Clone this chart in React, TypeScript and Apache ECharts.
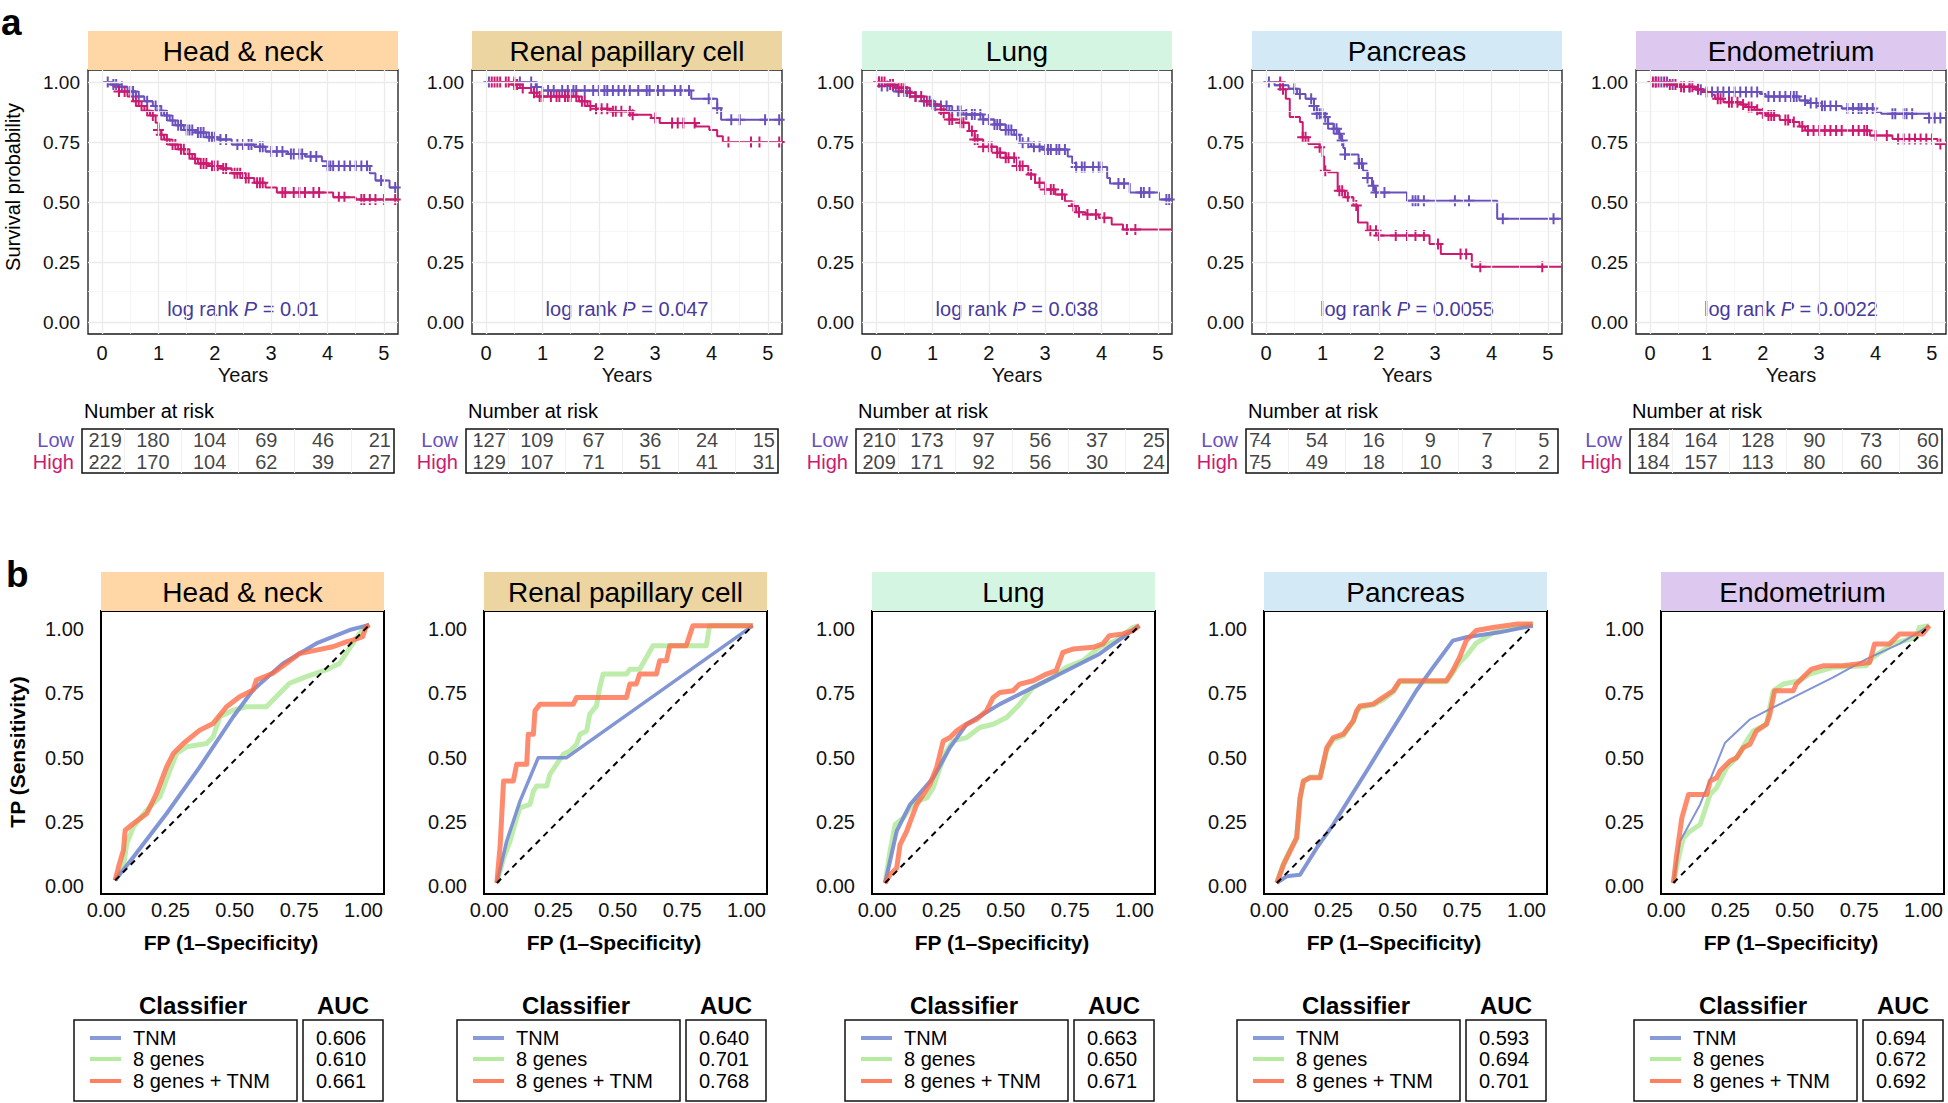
import React, { useEffect, useRef } from "react";
import * as echarts from "echarts";

const FONT = '"Liberation Sans", Arial, Helvetica, sans-serif';
const LOW_COLOR = "#6A50BC";
const HIGH_COLOR = "#CC1A70";
const P_COLOR = "#473A9C";
const TNM_COLOR = "#7489D0";
const GENES_COLOR = "#A8E68F";
const BOTH_COLOR = "#FF6A45";

// ---------- categories / labels ----------
const cancers = ["Head & neck", "Renal papillary cell", "Lung", "Pancreas", "Endometrium"];
const stripColors = ["#FFD6A5", "#ECD5A0", "#D5F5E3", "#D3E9F5", "#DDC9F0"];
const logRankP = ["0.01", "0.047", "0.038", "0.0055", "0.0022"];
const classifiers = ["TNM", "8 genes", "8 genes + TNM"];
const yearTicks = [0, 1, 2, 3, 4, 5];
const halfYears = [0.5, 1.5, 2.5, 3.5, 4.5];
const survTicks = [0, 0.25, 0.5, 0.75, 1];
const survMinor = [0.125, 0.375, 0.625, 0.875];
const rocTicks = [0, 0.25, 0.5, 0.75, 1];
const riskRows = ["High", "Low"];

// ---------- Kaplan-Meier step points [years, survival] and censor times ----------
const hnLowSteps = [[0,1],[0.15,0.99],[0.3,0.98],[0.45,0.96],[0.6,0.94],[0.75,0.92],[0.9,0.9],[1.0,0.88],[1.1,0.86],[1.2,0.84],[1.3,0.82],[1.45,0.8],[1.65,0.79],[1.85,0.77],[2.05,0.76],[2.3,0.74],[2.7,0.73],[2.9,0.71],[3.3,0.7],[3.6,0.69],[3.9,0.67],[4.0,0.65],[4.75,0.62],[4.85,0.59],[5.1,0.56]];
const hnLowCens = [0.1,0.2,0.25,0.35,0.5,0.55,0.65,0.8,0.95,1.05,1.15,1.25,1.35,1.4,1.5,1.55,1.6,1.7,1.75,1.8,1.9,1.95,2.0,2.1,2.2,2.4,2.5,2.6,2.65,2.8,2.85,3.0,3.1,3.2,3.35,3.4,3.5,3.55,3.7,3.8,4.0,4.05,4.1,4.2,4.3,4.4,4.5,4.6,4.7,4.95,5.2];
const hnHighSteps = [[0,1],[0.2,0.98],[0.3,0.96],[0.45,0.94],[0.55,0.92],[0.65,0.9],[0.75,0.88],[0.85,0.86],[0.95,0.83],[1.0,0.8],[1.05,0.78],[1.1,0.76],[1.2,0.74],[1.35,0.72],[1.5,0.7],[1.6,0.68],[1.7,0.66],[1.9,0.65],[2.1,0.64],[2.3,0.62],[2.5,0.6],[2.7,0.58],[2.9,0.56],[3.1,0.54],[4.1,0.52],[4.5,0.51]];
const hnHighCens = [0.3,0.4,0.6,0.7,0.8,0.9,1.0,1.05,1.15,1.25,1.3,1.4,1.45,1.55,1.65,1.75,1.8,1.85,1.95,2.0,2.05,2.15,2.2,2.35,2.4,2.45,2.55,2.6,2.75,2.8,2.85,3.2,3.25,3.4,3.5,3.6,3.75,3.85,4.2,4.3,4.6,4.65,4.75,4.85,5.0,5.2];

const rpLowSteps = [[0,1],[0.88,0.979],[1.0,0.965],[3.64,0.93],[4.1,0.891],[4.17,0.843]];
const rpLowCens = [0.05,0.5,0.6,0.8,0.9,1.1,1.2,1.35,1.45,1.55,1.6,1.75,1.9,2.0,2.1,2.15,2.25,2.35,2.45,2.55,2.7,2.85,2.9,3.05,3.15,3.35,3.45,3.6,3.95,4.1,4.35,4.5,4.95,5.2];
const rpHighSteps = [[0,1],[0.45,0.99],[0.65,0.975],[0.8,0.955],[0.9,0.94],[1.65,0.92],[1.8,0.9],[1.95,0.889],[2.2,0.878],[2.6,0.864],[2.93,0.85],[3.08,0.829],[3.72,0.815],[3.96,0.8],[4.1,0.774],[4.2,0.75]];
const rpHighCens = [0.1,0.15,0.2,0.25,0.35,0.4,0.5,0.55,0.65,0.85,0.95,1.0,1.15,1.25,1.3,1.4,1.45,1.5,1.6,1.7,1.75,1.85,1.95,2.05,2.15,2.25,2.3,2.4,2.55,2.6,3.0,3.3,3.4,3.5,3.7,4.3,4.7,4.85,5.2];

const luLowSteps = [[0,1],[0.1,0.983],[0.35,0.96],[0.6,0.94],[0.85,0.92],[1.0,0.9],[1.3,0.879],[1.55,0.865],[1.9,0.844],[2.1,0.823],[2.3,0.8],[2.45,0.78],[2.55,0.747],[2.75,0.73],[2.95,0.719],[3.4,0.69],[3.48,0.663],[3.55,0.646],[4.1,0.6],[4.15,0.577],[4.5,0.54],[5.02,0.51]];
const luLowCens = [0.05,0.1,0.2,0.3,0.4,0.5,0.55,0.7,0.85,0.95,1.05,1.15,1.25,1.35,1.45,1.5,1.6,1.7,1.75,1.85,1.9,2.0,2.1,2.15,2.2,2.3,2.35,2.4,2.5,2.6,2.7,2.8,2.9,3.0,3.05,3.1,3.2,3.25,3.35,3.55,3.65,3.7,3.85,3.95,4.0,4.3,4.4,4.7,4.75,4.85,5.15,5.2];
const luHighSteps = [[0,1],[0.25,0.99],[0.35,0.976],[0.55,0.955],[0.7,0.94],[0.85,0.92],[1.0,0.907],[1.15,0.885],[1.2,0.872],[1.3,0.844],[1.5,0.83],[1.65,0.796],[1.75,0.76],[1.9,0.73],[2.15,0.705],[2.3,0.684],[2.5,0.65],[2.7,0.615],[2.82,0.58],[3.0,0.552],[3.18,0.531],[3.35,0.503],[3.47,0.483],[3.55,0.457],[3.72,0.448],[3.95,0.434],[4.18,0.406],[4.38,0.385]];
const luHighCens = [0.05,0.1,0.15,0.25,0.3,0.4,0.45,0.5,0.6,0.7,0.8,0.9,1.0,1.15,1.2,1.3,1.35,1.5,1.55,1.7,1.75,1.8,1.9,2.0,2.05,2.15,2.2,2.3,2.35,2.45,2.5,2.55,2.6,2.75,2.9,3.0,3.1,3.15,3.3,3.5,3.6,3.75,3.9,4.05,4.45,4.6];

const paLowSteps = [[0,1],[0.15,0.986],[0.4,0.972],[0.55,0.95],[0.7,0.93],[0.85,0.9],[0.9,0.868],[1.05,0.854],[1.1,0.826],[1.2,0.805],[1.28,0.784],[1.33,0.756],[1.37,0.725],[1.4,0.698],[1.64,0.66],[1.72,0.63],[1.8,0.6],[1.88,0.568],[1.93,0.54],[2.5,0.505],[4.1,0.43]];
const paLowCens = [0.05,0.25,0.5,0.6,0.8,0.85,0.9,0.95,1.0,1.05,1.1,1.2,1.25,1.3,1.35,1.4,1.65,1.7,1.8,1.9,1.95,2.1,2.6,2.65,2.7,2.8,3.35,3.6,4.2,5.1];
const paHighSteps = [[0,1],[0.3,0.97],[0.35,0.93],[0.42,0.854],[0.6,0.833],[0.65,0.77],[0.75,0.742],[0.95,0.728],[1.0,0.69],[1.03,0.63],[1.1,0.624],[1.27,0.547],[1.4,0.52],[1.55,0.485],[1.63,0.415],[1.8,0.38],[2.0,0.36],[2.9,0.325],[3.1,0.283],[3.65,0.23]];
const paHighCens = [0.25,0.3,0.65,0.7,0.95,1.05,1.3,1.35,1.45,1.6,1.85,1.95,2.0,2.3,2.5,2.65,2.8,3.05,3.45,3.55,3.8,4.9];

const enLowSteps = [[0,1],[0.35,0.99],[0.55,0.979],[0.85,0.968],[1.0,0.958],[1.95,0.95],[2.05,0.94],[2.65,0.923],[2.8,0.912],[3.0,0.9],[3.4,0.89],[4.0,0.875],[4.1,0.868],[4.95,0.85]];
const enLowCens = [0.1,0.2,0.3,0.4,0.6,0.7,0.9,1.1,1.2,1.3,1.4,1.5,1.6,1.7,1.8,1.9,2.1,2.2,2.3,2.4,2.5,2.55,2.6,2.75,2.85,2.95,3.05,3.1,3.2,3.3,3.5,3.6,3.7,3.75,3.85,3.95,4.3,4.35,4.5,4.55,4.65,4.95,5.05,5.15];
const enHighSteps = [[0,1],[0.3,0.99],[0.5,0.98],[0.8,0.97],[0.95,0.958],[1.1,0.947],[1.15,0.93],[1.3,0.916],[1.6,0.906],[1.7,0.896],[1.85,0.884],[1.95,0.87],[2.05,0.86],[2.3,0.842],[2.5,0.833],[2.65,0.815],[2.75,0.798],[3.9,0.777],[4.3,0.763],[5.1,0.742]];
const enHighCens = [0.05,0.1,0.15,0.25,0.35,0.45,0.55,0.6,0.7,0.75,0.85,1.0,1.2,1.25,1.4,1.45,1.55,1.65,1.75,1.8,1.9,2.0,2.1,2.15,2.2,2.4,2.45,2.55,2.7,2.8,2.9,3.0,3.1,3.2,3.3,3.4,3.6,3.7,3.8,3.85,4.0,4.2,4.4,4.5,4.6,4.7,4.8,4.9,5.0,5.15];

// ---------- Number at risk (years 0..5) ----------
const hnRiskLow = [219, 180, 104, 69, 46, 21];
const hnRiskHigh = [222, 170, 104, 62, 39, 27];
const rpRiskLow = [127, 109, 67, 36, 24, 15];
const rpRiskHigh = [129, 107, 71, 51, 41, 31];
const luRiskLow = [210, 173, 97, 56, 37, 25];
const luRiskHigh = [209, 171, 92, 56, 30, 24];
const paRiskLow = [74, 54, 16, 9, 7, 5];
const paRiskHigh = [75, 49, 18, 10, 3, 2];
const enRiskLow = [184, 164, 128, 90, 73, 60];
const enRiskHigh = [184, 157, 113, 80, 60, 36];

// ---------- ROC curves [FP, TP] ----------
const hnTNM = [[0.035,0.023],[0.106,0.114],[0.235,0.283],[0.364,0.464],[0.494,0.659],[0.571,0.763],[0.687,0.866],[0.817,0.944],[0.946,0.996],[1.023,1.016]];
const hnGenes = [[0.035,0.023],[0.067,0.075],[0.08,0.166],[0.106,0.231],[0.158,0.296],[0.209,0.348],[0.248,0.451],[0.274,0.516],[0.313,0.542],[0.39,0.555],[0.416,0.581],[0.442,0.659],[0.494,0.685],[0.545,0.698],[0.623,0.698],[0.661,0.737],[0.713,0.789],[0.778,0.815],[0.855,0.841],[0.907,0.866],[0.933,0.905],[0.959,0.944],[0.985,0.983],[1.023,1.016]];
const hnBoth = [[0.035,0.023],[0.048,0.075],[0.067,0.14],[0.074,0.218],[0.106,0.244],[0.158,0.283],[0.196,0.361],[0.235,0.464],[0.261,0.516],[0.3,0.555],[0.364,0.607],[0.416,0.633],[0.468,0.698],[0.519,0.737],[0.571,0.763],[0.584,0.802],[0.648,0.828],[0.7,0.866],[0.752,0.905],[0.817,0.918],[0.881,0.931],[0.933,0.95],[0.959,0.957],[0.997,0.97],[1.01,1.009],[1.023,1.016]];

const rpTNM = [[0.03,0.013],[0.068,0.175],[0.12,0.331],[0.191,0.5],[0.301,0.5],[1.025,1.013]];
const rpGenes = [[0.03,0.013],[0.056,0.11],[0.081,0.175],[0.107,0.266],[0.12,0.305],[0.159,0.318],[0.172,0.37],[0.185,0.39],[0.224,0.39],[0.236,0.435],[0.262,0.474],[0.288,0.513],[0.314,0.526],[0.34,0.552],[0.353,0.591],[0.379,0.604],[0.391,0.669],[0.417,0.701],[0.43,0.773],[0.443,0.825],[0.534,0.825],[0.547,0.844],[0.585,0.844],[0.637,0.935],[0.844,0.935],[0.857,1.013],[1.025,1.013]];
const rpBoth = [[0.03,0.013],[0.043,0.162],[0.056,0.409],[0.094,0.409],[0.107,0.474],[0.146,0.474],[0.152,0.591],[0.172,0.591],[0.178,0.682],[0.198,0.708],[0.327,0.708],[0.34,0.734],[0.534,0.734],[0.547,0.786],[0.572,0.786],[0.585,0.825],[0.65,0.825],[0.663,0.877],[0.689,0.877],[0.702,0.935],[0.766,0.935],[0.792,1.013],[1.025,1.013]];

const luTNM = [[0.031,0.013],[0.076,0.214],[0.128,0.318],[0.218,0.422],[0.283,0.539],[0.348,0.63],[0.477,0.708],[0.606,0.773],[0.735,0.838],[0.864,0.903],[1.019,1.013]];
const luGenes = [[0.031,0.013],[0.05,0.136],[0.07,0.24],[0.102,0.266],[0.128,0.305],[0.154,0.331],[0.193,0.344],[0.218,0.383],[0.244,0.461],[0.27,0.526],[0.296,0.565],[0.348,0.578],[0.399,0.617],[0.451,0.63],[0.503,0.656],[0.554,0.708],[0.606,0.773],[0.683,0.812],[0.735,0.851],[0.8,0.877],[0.864,0.929],[0.929,0.955],[0.994,1.006],[1.019,1.013]];
const luBoth = [[0.031,0.013],[0.05,0.045],[0.076,0.071],[0.089,0.162],[0.115,0.214],[0.134,0.266],[0.154,0.318],[0.18,0.357],[0.205,0.396],[0.231,0.461],[0.257,0.565],[0.283,0.578],[0.309,0.604],[0.348,0.63],[0.386,0.649],[0.425,0.682],[0.451,0.734],[0.477,0.753],[0.528,0.76],[0.554,0.786],[0.606,0.799],[0.658,0.825],[0.696,0.838],[0.722,0.909],[0.761,0.922],[0.839,0.929],[0.877,0.942],[0.903,0.974],[0.955,0.981],[0.994,0.994],[1.019,1.013]];

const paTNM = [[0.03,0.013],[0.068,0.039],[0.12,0.045],[0.185,0.149],[0.249,0.24],[0.314,0.344],[0.379,0.448],[0.443,0.552],[0.508,0.656],[0.572,0.76],[0.637,0.851],[0.714,0.955],[0.766,0.968],[0.895,0.987],[1.025,1.013]];
const paGenes = [[0.03,0.013],[0.056,0.09],[0.081,0.14],[0.107,0.19],[0.12,0.34],[0.133,0.405],[0.159,0.425],[0.198,0.425],[0.224,0.53],[0.249,0.57],[0.288,0.585],[0.327,0.64],[0.34,0.675],[0.353,0.695],[0.404,0.705],[0.443,0.725],[0.482,0.755],[0.508,0.795],[0.534,0.795],[0.689,0.795],[0.714,0.83],[0.74,0.87],[0.766,0.895],[0.805,0.945],[0.87,0.985],[0.96,1.006],[1.025,1.019]];
const paBoth = [[0.03,0.013],[0.056,0.084],[0.081,0.136],[0.107,0.188],[0.12,0.344],[0.133,0.409],[0.159,0.422],[0.198,0.422],[0.224,0.539],[0.249,0.578],[0.288,0.591],[0.327,0.643],[0.34,0.682],[0.353,0.701],[0.404,0.708],[0.443,0.734],[0.482,0.76],[0.508,0.799],[0.534,0.799],[0.689,0.799],[0.714,0.838],[0.74,0.89],[0.766,0.955],[0.805,0.994],[0.87,1.006],[0.96,1.019],[1.025,1.019]];

const enTNM = [[0.028,0.013],[0.054,0.175],[0.132,0.318],[0.229,0.558],[0.326,0.649],[0.416,0.695],[0.519,0.747],[0.649,0.812],[0.778,0.883],[0.907,0.942],[1.023,1.013]];
const enGenes = [[0.028,0.013],[0.048,0.11],[0.067,0.188],[0.093,0.214],[0.132,0.24],[0.171,0.357],[0.196,0.383],[0.235,0.461],[0.274,0.5],[0.313,0.565],[0.339,0.604],[0.39,0.63],[0.416,0.76],[0.455,0.786],[0.519,0.799],[0.558,0.825],[0.649,0.851],[0.778,0.857],[0.804,0.89],[0.881,0.942],[0.972,0.968],[0.984,1.006],[1.023,1.013]];
const enBoth = [[0.028,0.013],[0.041,0.123],[0.061,0.266],[0.087,0.357],[0.158,0.357],[0.171,0.409],[0.196,0.422],[0.209,0.448],[0.248,0.487],[0.274,0.5],[0.3,0.539],[0.326,0.552],[0.351,0.604],[0.39,0.63],[0.403,0.669],[0.422,0.76],[0.494,0.76],[0.506,0.786],[0.545,0.825],[0.565,0.844],[0.61,0.857],[0.687,0.857],[0.791,0.87],[0.81,0.942],[0.868,0.942],[0.907,0.981],[0.997,0.981],[1.023,1.013]];

const hnDiag = [[0.035,0.023],[1.023,1.016]];
const rpDiag = [[0.03,0.013],[1.025,1.013]];
const luDiag = [[0.031,0.013],[1.019,1.013]];
const paDiag = [[0.03,0.013],[1.025,1.013]];
const enDiag = [[0.028,0.013],[1.023,1.013]];

const aucTNM = ["0.606", "0.640", "0.663", "0.593", "0.694"];
const aucGenes = ["0.610", "0.701", "0.650", "0.694", "0.672"];
const aucBoth = ["0.661", "0.768", "0.671", "0.701", "0.692"];

const lowSteps = [hnLowSteps, rpLowSteps, luLowSteps, paLowSteps, enLowSteps];
const lowCens = [hnLowCens, rpLowCens, luLowCens, paLowCens, enLowCens];
const highSteps = [hnHighSteps, rpHighSteps, luHighSteps, paHighSteps, enHighSteps];
const highCens = [hnHighCens, rpHighCens, luHighCens, paHighCens, enHighCens];
const riskLow = [hnRiskLow, rpRiskLow, luRiskLow, paRiskLow, enRiskLow];
const riskHigh = [hnRiskHigh, rpRiskHigh, luRiskHigh, paRiskHigh, enRiskHigh];
const rocTNM = [hnTNM, rpTNM, luTNM, paTNM, enTNM];
const rocGenes = [hnGenes, rpGenes, luGenes, paGenes, enGenes];
const rocBoth = [hnBoth, rpBoth, luBoth, paBoth, enBoth];
const rocDiag = [hnDiag, rpDiag, luDiag, paDiag, enDiag];
const tnmWidth = [4, 3.5, 4, 4, 2];

// ---------- layout ----------
const KM_LEFT = [88, 472, 862, 1252, 1636];
const KM_W = 310, KM_TOP = 70, KM_H = 264;
const ROC_LEFT = [101, 484, 872, 1264, 1661];
const ROC_W = 283, ROC_TOP = 611, ROC_H = 283;
const TBL_TOP = 429, TBL_H = 44;
const FS = 20; // base font size

const CENSOR = "path://M4.1,0H5.9V4.1H10V5.9H5.9V10H4.1V5.9H0V4.1H4.1Z";

function survAt(steps: number[][], t: number) {
  let s = steps[0][1];
  for (const p of steps) if (p[0] <= t) s = p[1];
  return s;
}

function buildOption() {
  const grid: any[] = [];
  const xAxis: any[] = [];
  const yAxis: any[] = [];
  const series: any[] = [];
  const els: any[] = [];
  const addGrid = (g: any, xa: any, ya: any) => {
    const idx = grid.length;
    grid.push(g);
    xAxis.push({ ...xa, gridIndex: idx });
    yAxis.push({ ...ya, gridIndex: idx });
    return idx;
  };
  const MAJOR = { color: "#EBEBEB", width: 1.3, type: "solid" };
  const MINOR = { color: "#F4F4F4", width: 0.8, type: "solid" };
  const gridLineSeries = (g: number, data: any[]) => ({
    type: "line", xAxisIndex: g, yAxisIndex: g, data: [], symbol: "none", silent: true,
    markLine: { silent: true, symbol: ["none", "none"], label: { show: false }, animation: false, data },
  });

  for (let i = 0; i < 5; i++) {
    // ---- KM panel ----
    const g = addGrid(
      { left: KM_LEFT[i], top: KM_TOP, width: KM_W, height: KM_H, show: true, borderColor: "#1a1a1a", borderWidth: 1.3, backgroundColor: "#fff" },
      {
        type: "value", min: -0.25, max: 5.25,
        name: "Years", nameLocation: "middle", nameGap: 31, nameTextStyle: { fontSize: FS, color: "#111", fontFamily: FONT },
        axisLine: { show: false }, splitLine: { show: false },
        axisTick: { show: true, customValues: yearTicks, length: 4, lineStyle: { color: "#333" } },
        axisLabel: { customValues: yearTicks, fontSize: FS, margin: 9, color: "#111", fontFamily: FONT, formatter: (v: number) => String(v) },
      },
      {
        type: "value", min: -0.05, max: 1.05,
        axisLine: { show: false }, splitLine: { show: false },
        axisTick: { show: true, customValues: survTicks, length: 4, lineStyle: { color: "#333" } },
        axisLabel: { customValues: survTicks, fontSize: FS - 1, margin: 8, color: "#111", fontFamily: FONT, formatter: (v: number) => Number(v).toFixed(2) },
      }
    );
    series.push(gridLineSeries(g, [
      ...halfYears.map((v) => ({ xAxis: v, lineStyle: MINOR })),
      ...survMinor.map((v) => ({ yAxis: v, lineStyle: MINOR })),
      ...yearTicks.map((v) => ({ xAxis: v, lineStyle: MAJOR })),
      ...survTicks.map((v) => ({ yAxis: v, lineStyle: MAJOR })),
    ]));
    const groups = [
      { name: "Low", steps: lowSteps[i], cens: lowCens[i], color: LOW_COLOR },
      { name: "High", steps: highSteps[i], cens: highCens[i], color: HIGH_COLOR },
    ];
    for (const grp of groups) {
      const last = grp.steps[grp.steps.length - 1][1];
      series.push({
        type: "line", name: grp.name, xAxisIndex: g, yAxisIndex: g, step: "end", symbol: "none",
        data: [...grp.steps, [5.25, last]], lineStyle: { color: grp.color, width: 2 }, z: 3,
      });
      series.push({
        type: "scatter", name: grp.name + " censored", xAxisIndex: g, yAxisIndex: g,
        symbol: CENSOR, symbolSize: 11,
        data: grp.cens.map((t) => [t, survAt(grp.steps, t)]),
        itemStyle: { color: grp.color, opacity: 1 }, z: 4,
      });
    }

    // strip
    els.push({ type: "rect", shape: { x: KM_LEFT[i], y: 31, width: KM_W, height: 39 }, style: { fill: stripColors[i] } });
    els.push({ type: "text", x: KM_LEFT[i] + KM_W / 2, y: 51, style: { text: cancers[i], font: `28px ${FONT}`, fill: "#000", align: "center", verticalAlign: "middle" } });
    // log rank
    els.push({
      type: "text", x: KM_LEFT[i] + KM_W / 2, y: 309,
      style: {
        text: `{n|log rank }{i|P}{n| = ${logRankP[i]}}`, align: "center", verticalAlign: "middle",
        rich: {
          n: { fontSize: FS, fontFamily: FONT, fill: P_COLOR },
          i: { fontSize: FS, fontFamily: FONT, fill: P_COLOR, fontStyle: "italic" },
        },
      },
    });

    // ---- risk table ----
    const tl = KM_LEFT[i] - 6;
    const gt = addGrid(
      { left: tl, top: TBL_TOP, width: 312, height: TBL_H, show: true, borderColor: "#111", borderWidth: 1.5, backgroundColor: "#fff" },
      { type: "value", min: -0.25, max: 5.25, show: false },
      {
        type: "category", data: riskRows,
        axisLine: { show: false }, splitLine: { show: false },
        axisTick: { show: true, alignWithLabel: true, interval: 0, length: 4, lineStyle: { color: "#555" } },
        axisLabel: { interval: 0, fontSize: FS, margin: 8, fontFamily: FONT, color: (v: string) => (v === "Low" ? LOW_COLOR : HIGH_COLOR) },
      }
    );
    series.push(gridLineSeries(gt, halfYears.map((v) => ({ xAxis: v, lineStyle: { color: "#F0F0F0", width: 1, type: "solid" } }))));
    const rows = [
      { name: "Low", idx: 1, vals: riskLow[i] },
      { name: "High", idx: 0, vals: riskHigh[i] },
    ];
    for (const r of rows) {
      series.push({
        type: "scatter", name: "at risk " + r.name, xAxisIndex: gt, yAxisIndex: gt,
        symbolSize: 1, itemStyle: { color: "rgba(0,0,0,0)" },
        label: { show: true, position: "inside", fontSize: FS, fontFamily: FONT, color: "#111", formatter: (p: any) => String(p.value[2]) },
        data: r.vals.map((n, k) => ({
          value: [yearTicks[k], r.idx, n],
          label: { offset: [k === 0 && String(n).length >= 3 ? 9 : 0, 0] },
        })),
      });
    }
    els.push({ type: "text", x: tl + 2, y: 411, style: { text: "Number at risk", font: `${FS}px ${FONT}`, fill: "#000", align: "left", verticalAlign: "middle" } });

    // ---- ROC panel ----
    const gr = addGrid(
      { left: ROC_LEFT[i], top: ROC_TOP, width: ROC_W, height: ROC_H, show: true, borderColor: "#000", borderWidth: 2, backgroundColor: "#fff" },
      {
        type: "value", min: -0.02, max: 1.08,
        axisLine: { show: false }, splitLine: { show: false }, axisTick: { show: false },
        axisLabel: { customValues: rocTicks, fontSize: FS, margin: 6, color: "#111", fontFamily: FONT, formatter: (v: number) => Number(v).toFixed(2) },
      },
      {
        type: "value", min: -0.03, max: 1.07,
        axisLine: { show: false }, splitLine: { show: false }, axisTick: { show: false },
        axisLabel: { customValues: rocTicks, fontSize: FS, margin: 17, color: "#111", fontFamily: FONT, formatter: (v: number) => Number(v).toFixed(2) },
      }
    );
    series.push({ type: "line", name: classifiers[1], xAxisIndex: gr, yAxisIndex: gr, data: rocGenes[i], symbol: "none", lineStyle: { color: GENES_COLOR, width: 5, opacity: 0.75, join: "round" }, z: 2 });
    series.push({ type: "line", name: classifiers[0], xAxisIndex: gr, yAxisIndex: gr, data: rocTNM[i], symbol: "none", lineStyle: { color: TNM_COLOR, width: tnmWidth[i], opacity: 0.9, join: "round" }, z: 3 });
    series.push({ type: "line", name: classifiers[2], xAxisIndex: gr, yAxisIndex: gr, data: rocBoth[i], symbol: "none", lineStyle: { color: BOTH_COLOR, width: 5, opacity: 0.78, join: "round" }, z: 4 });
    series.push({ type: "line", name: "chance", xAxisIndex: gr, yAxisIndex: gr, data: rocDiag[i], symbol: "none", lineStyle: { color: "#000", width: 2, type: [6, 5] }, z: 5 });

    els.push({ type: "rect", shape: { x: ROC_LEFT[i], y: 572, width: ROC_W, height: 39 }, style: { fill: stripColors[i] } });
    els.push({ type: "text", x: ROC_LEFT[i] + ROC_W / 2, y: 592, style: { text: cancers[i], font: `28px ${FONT}`, fill: "#000", align: "center", verticalAlign: "middle" } });
    els.push({ type: "text", x: ROC_LEFT[i] + 130, y: 942, style: { text: "FP (1–Specificity)", font: `bold 21px ${FONT}`, fill: "#000", align: "center", verticalAlign: "middle" } });

    // ---- legend table ----
    const L = ROC_LEFT[i];
    els.push({ type: "text", x: L + 92, y: 1005, style: { text: "Classifier", font: `bold 24px ${FONT}`, fill: "#000", align: "center", verticalAlign: "middle" } });
    els.push({ type: "text", x: L + 242, y: 1005, style: { text: "AUC", font: `bold 24px ${FONT}`, fill: "#000", align: "center", verticalAlign: "middle" } });
    els.push({ type: "rect", shape: { x: L - 27, y: 1020, width: 223, height: 81 }, style: { fill: "#fff", stroke: "#111", lineWidth: 1.5 } });
    els.push({ type: "rect", shape: { x: L + 202, y: 1020, width: 80, height: 81 }, style: { fill: "#fff", stroke: "#111", lineWidth: 1.5 } });
    const rowY = [1038, 1059, 1081];
    const legendColors = [TNM_COLOR, GENES_COLOR, BOTH_COLOR];
    const aucs = [aucTNM[i], aucGenes[i], aucBoth[i]];
    for (let k = 0; k < 3; k++) {
      els.push({ type: "line", shape: { x1: L - 11, y1: rowY[k], x2: L + 20, y2: rowY[k] }, style: { stroke: legendColors[k], lineWidth: 4, opacity: 0.85 } });
      els.push({ type: "text", x: L + 32, y: rowY[k], style: { text: classifiers[k], font: `${FS}px ${FONT}`, fill: "#000", align: "left", verticalAlign: "middle" } });
      els.push({ type: "text", x: L + 240, y: rowY[k], style: { text: aucs[k], font: `${FS}px ${FONT}`, fill: "#000", align: "center", verticalAlign: "middle" } });
    }
  }

  // panel letters and y titles
  els.push({ type: "text", x: 1, y: 22, style: { text: "a", font: `bold 37px ${FONT}`, fill: "#000", align: "left", verticalAlign: "middle" } });
  els.push({ type: "text", x: 6, y: 574, style: { text: "b", font: `bold 37px ${FONT}`, fill: "#000", align: "left", verticalAlign: "middle" } });
  els.push({ type: "text", x: 13, y: 187, rotation: Math.PI / 2, style: { text: "Survival probability", font: `${FS}px ${FONT}`, fill: "#000", align: "center", verticalAlign: "middle" } });
  els.push({ type: "text", x: 17, y: 752, rotation: Math.PI / 2, style: { text: "TP (Sensitivity)", font: `bold 21px ${FONT}`, fill: "#000", align: "center", verticalAlign: "middle" } });

  return {
    animation: false,
    backgroundColor: "#fff",
    textStyle: { fontFamily: FONT },
    grid, xAxis, yAxis, series,
    graphic: { elements: els },
  };
}

export default function App() {
  const ref = useRef<HTMLDivElement>(null);
  useEffect(() => {
    const chart = echarts.init(ref.current as HTMLDivElement, null, { renderer: "svg" });
    chart.setOption(buildOption() as any);
    return () => chart.dispose();
  }, []);
  return (
    <div
      ref={ref}
      style={{ position: "fixed", left: 0, top: 0, width: "1948px", height: "1103px", background: "#fff" }}
    />
  );
}
